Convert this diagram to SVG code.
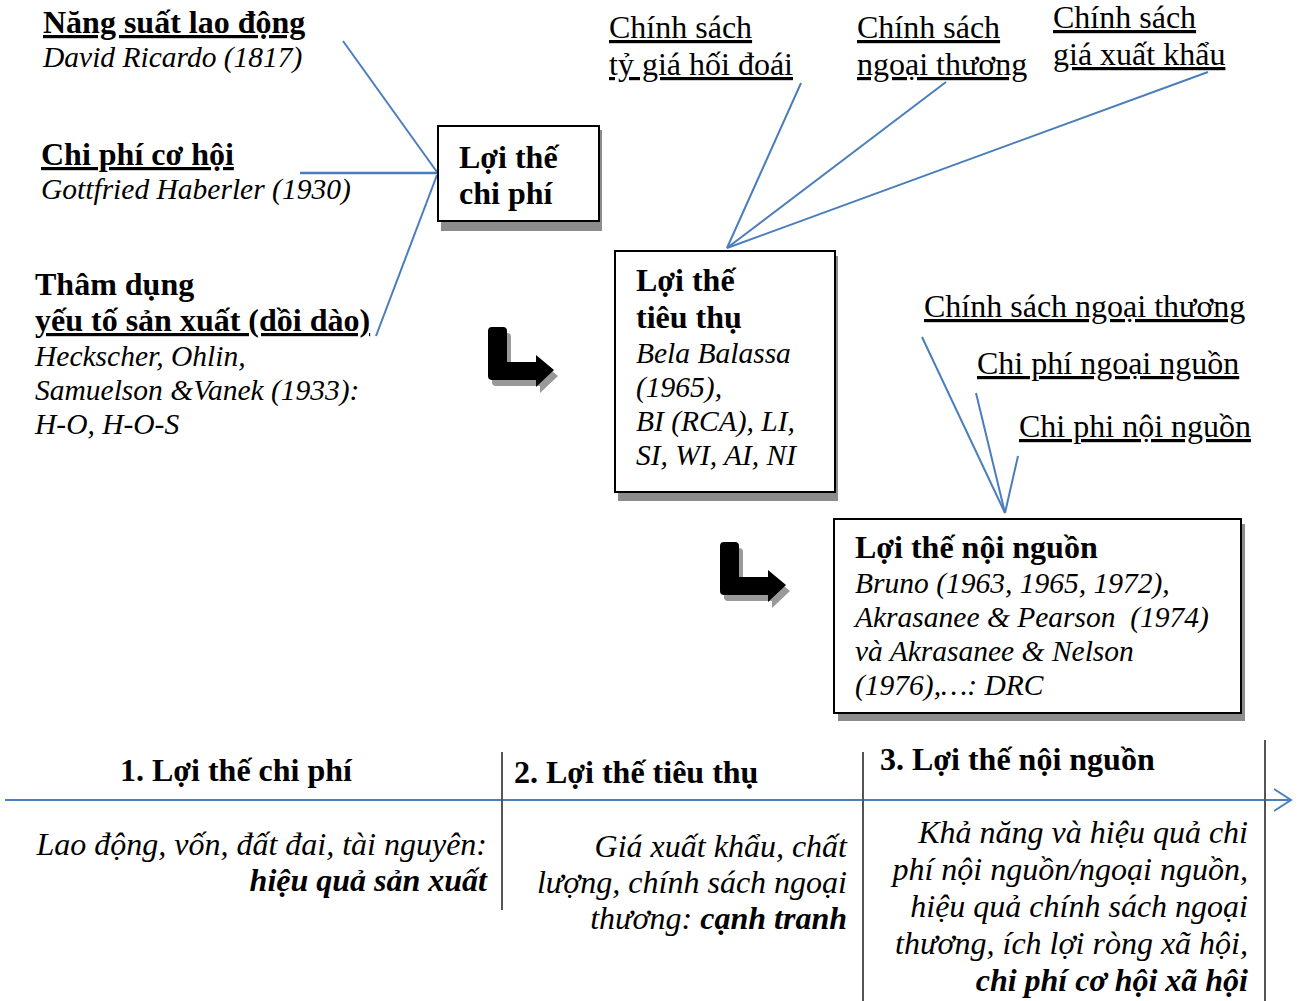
<svg xmlns="http://www.w3.org/2000/svg" width="1298" height="1001" viewBox="0 0 1298 1001">
<defs>
<style>
text{font-family:"Liberation Serif","Times New Roman",serif;fill:#000}
.b{font-weight:bold;font-size:32px}
.i{font-style:italic;font-size:29.5px}
.r{font-size:32px}
.u{text-decoration:underline}
.bi{font-weight:bold;font-style:italic}
.e{text-anchor:end}
.t{font-style:italic;font-size:32px}
.ln{stroke:#4a7ebb;stroke-width:2;fill:none}
.box{fill:#fff;stroke:#000;stroke-width:2}
.sh{fill:#8c8c8c}
.vl{stroke:#555;stroke-width:2}
</style>
<path id="larrow" d="M4,0 H15 Q19,0 19,4 V35 H48 V28 L66,43 L48,60 V53 H4 Q0,53 0,49 V4 Q0,0 4,0 Z"/>
</defs>
<rect width="1298" height="1001" fill="#fff"/>

<g id="connectors">
<line class="ln" x1="343" y1="41" x2="437" y2="172"/>
<line class="ln" x1="300" y1="173" x2="437" y2="173" style="stroke-width:2.5"/>
<line class="ln" x1="376" y1="336" x2="437" y2="175"/>
<line class="ln" x1="727" y1="248" x2="801" y2="83"/>
<line class="ln" x1="727" y1="248" x2="946" y2="82"/>
<line class="ln" x1="727" y1="248" x2="1208" y2="72"/>
<line class="ln" x1="922" y1="337" x2="1005" y2="513"/>
<line class="ln" x1="976" y1="393" x2="1005" y2="513"/>
<line class="ln" x1="1018" y1="456" x2="1005" y2="513"/>
</g>

<g id="src-nang-suat">
<text class="b u" x="43" y="33">Năng suất lao động</text>
<text class="i" x="43" y="67">David Ricardo (1817)</text>
</g>
<g id="src-chi-phi-co-hoi">
<text class="b u" x="41" y="165">Chi phí cơ hội</text>
<text class="i" x="41" y="199">Gottfried Haberler (1930)</text>
</g>
<g id="src-tham-dung">
<text class="b" x="35" y="295">Thâm dụng</text>
<text class="b u" x="35" y="331">yếu tố sản xuất (dồi dào)</text>
<text class="i" x="35" y="366">Heckscher, Ohlin,</text>
<text class="i" x="35" y="400">Samuelson &amp;Vanek (1933):</text>
<text class="i" x="35" y="434">H-O, H-O-S</text>
</g>

<g id="node-chi-phi">
<rect class="sh" x="441" y="130" width="161" height="101"/>
<rect class="box" x="438" y="126" width="161" height="95"/>
<text class="b" x="459" y="168">Lợi thế</text>
<text class="b" x="459" y="204">chi phí</text>
</g>

<g id="lbl-ty-gia">
<text class="r u" x="609" y="38">Chính sách</text>
<text class="r u" x="609" y="75">tỷ giá hối đoái</text>
</g>
<g id="lbl-ngoai-thuong">
<text class="r u" x="857" y="38">Chính sách</text>
<text class="r u" x="857" y="75">ngoại thương</text>
</g>
<g id="lbl-gia-xk">
<text class="r u" x="1053" y="28">Chính sách</text>
<text class="r u" x="1053" y="65">giá xuất khẩu</text>
</g>

<g id="node-tieu-thu">
<rect class="sh" x="618" y="256" width="220" height="245"/>
<rect class="box" x="615" y="251" width="220" height="241"/>
<text class="b" x="636" y="291">Lợi thế</text>
<text class="b" x="636" y="328">tiêu thụ</text>
<text class="i" x="636" y="363">Bela Balassa</text>
<text class="i" x="636" y="397">(1965),</text>
<text class="i" x="636" y="431">BI (RCA), LI,</text>
<text class="i" x="636" y="465">SI, WI, AI, NI</text>
</g>

<g id="arrow-1">
<use href="#larrow" x="492" y="333" fill="#999"/>
<use href="#larrow" x="488" y="327" fill="#000"/>
</g>
<g id="arrow-2">
<use href="#larrow" x="724" y="548" fill="#999"/>
<use href="#larrow" x="720" y="542" fill="#000"/>
</g>

<g id="lbl-right">
<text class="r u" x="924" y="317">Chính sách ngoại thương</text>
<text class="r u" x="977" y="374">Chi phí ngoại nguồn</text>
<text class="r u" x="1019" y="437">Chi phi nội nguồn</text>
</g>

<g id="node-noi-nguon">
<rect class="sh" x="838" y="524" width="407" height="197"/>
<rect class="box" x="834" y="519" width="407" height="194"/>
<text class="b" x="855" y="558">Lợi thế nội nguồn</text>
<text class="i" x="855" y="593">Bruno (1963, 1965, 1972),</text>
<text class="i" x="855" y="627">Akrasanee &amp; Pearson&#160; (1974)</text>
<text class="i" x="855" y="661">và Akrasanee &amp; Nelson</text>
<text class="i" x="855" y="695">(1976),…: DRC</text>
</g>

<g id="timeline">
<line class="ln" x1="5" y1="800" x2="1290" y2="800"/>
<polyline class="ln" points="1274,789 1291,800 1274,811"/>
<line class="vl" x1="502" y1="752" x2="502" y2="910"/>
<line class="vl" x1="863" y1="752" x2="863" y2="1001"/>
<line class="vl" x1="1265" y1="740" x2="1265" y2="1001"/>
</g>

<g id="stage-1">
<text class="b" x="120" y="781">1. Lợi thế chi phí</text>
<text class="t e" x="487" y="855">Lao động, vốn, đất đai, tài nguyên:</text>
<text class="t bi e" x="487" y="891">hiệu quả sản xuất</text>
</g>
<g id="stage-2">
<text class="b" x="514" y="783">2. Lợi thế tiêu thụ</text>
<text class="t e" x="847" y="857">Giá xuất khẩu, chất</text>
<text class="t e" x="847" y="893">lượng, chính sách ngoại</text>
<text class="t e" x="847" y="929">thương: <tspan class="bi">cạnh tranh</tspan></text>
</g>
<g id="stage-3">
<text class="b" x="880" y="770">3. Lợi thế nội nguồn</text>
<text class="t e" x="1248" y="843">Khả năng và hiệu quả chi</text>
<text class="t e" x="1248" y="880">phí nội nguồn/ngoại nguồn,</text>
<text class="t e" x="1248" y="917">hiệu quả chính sách ngoại</text>
<text class="t e" x="1248" y="954">thương, ích lợi ròng xã hội,</text>
<text class="t bi e" x="1248" y="991">chi phí cơ hội xã hội</text>
</g>
</svg>
